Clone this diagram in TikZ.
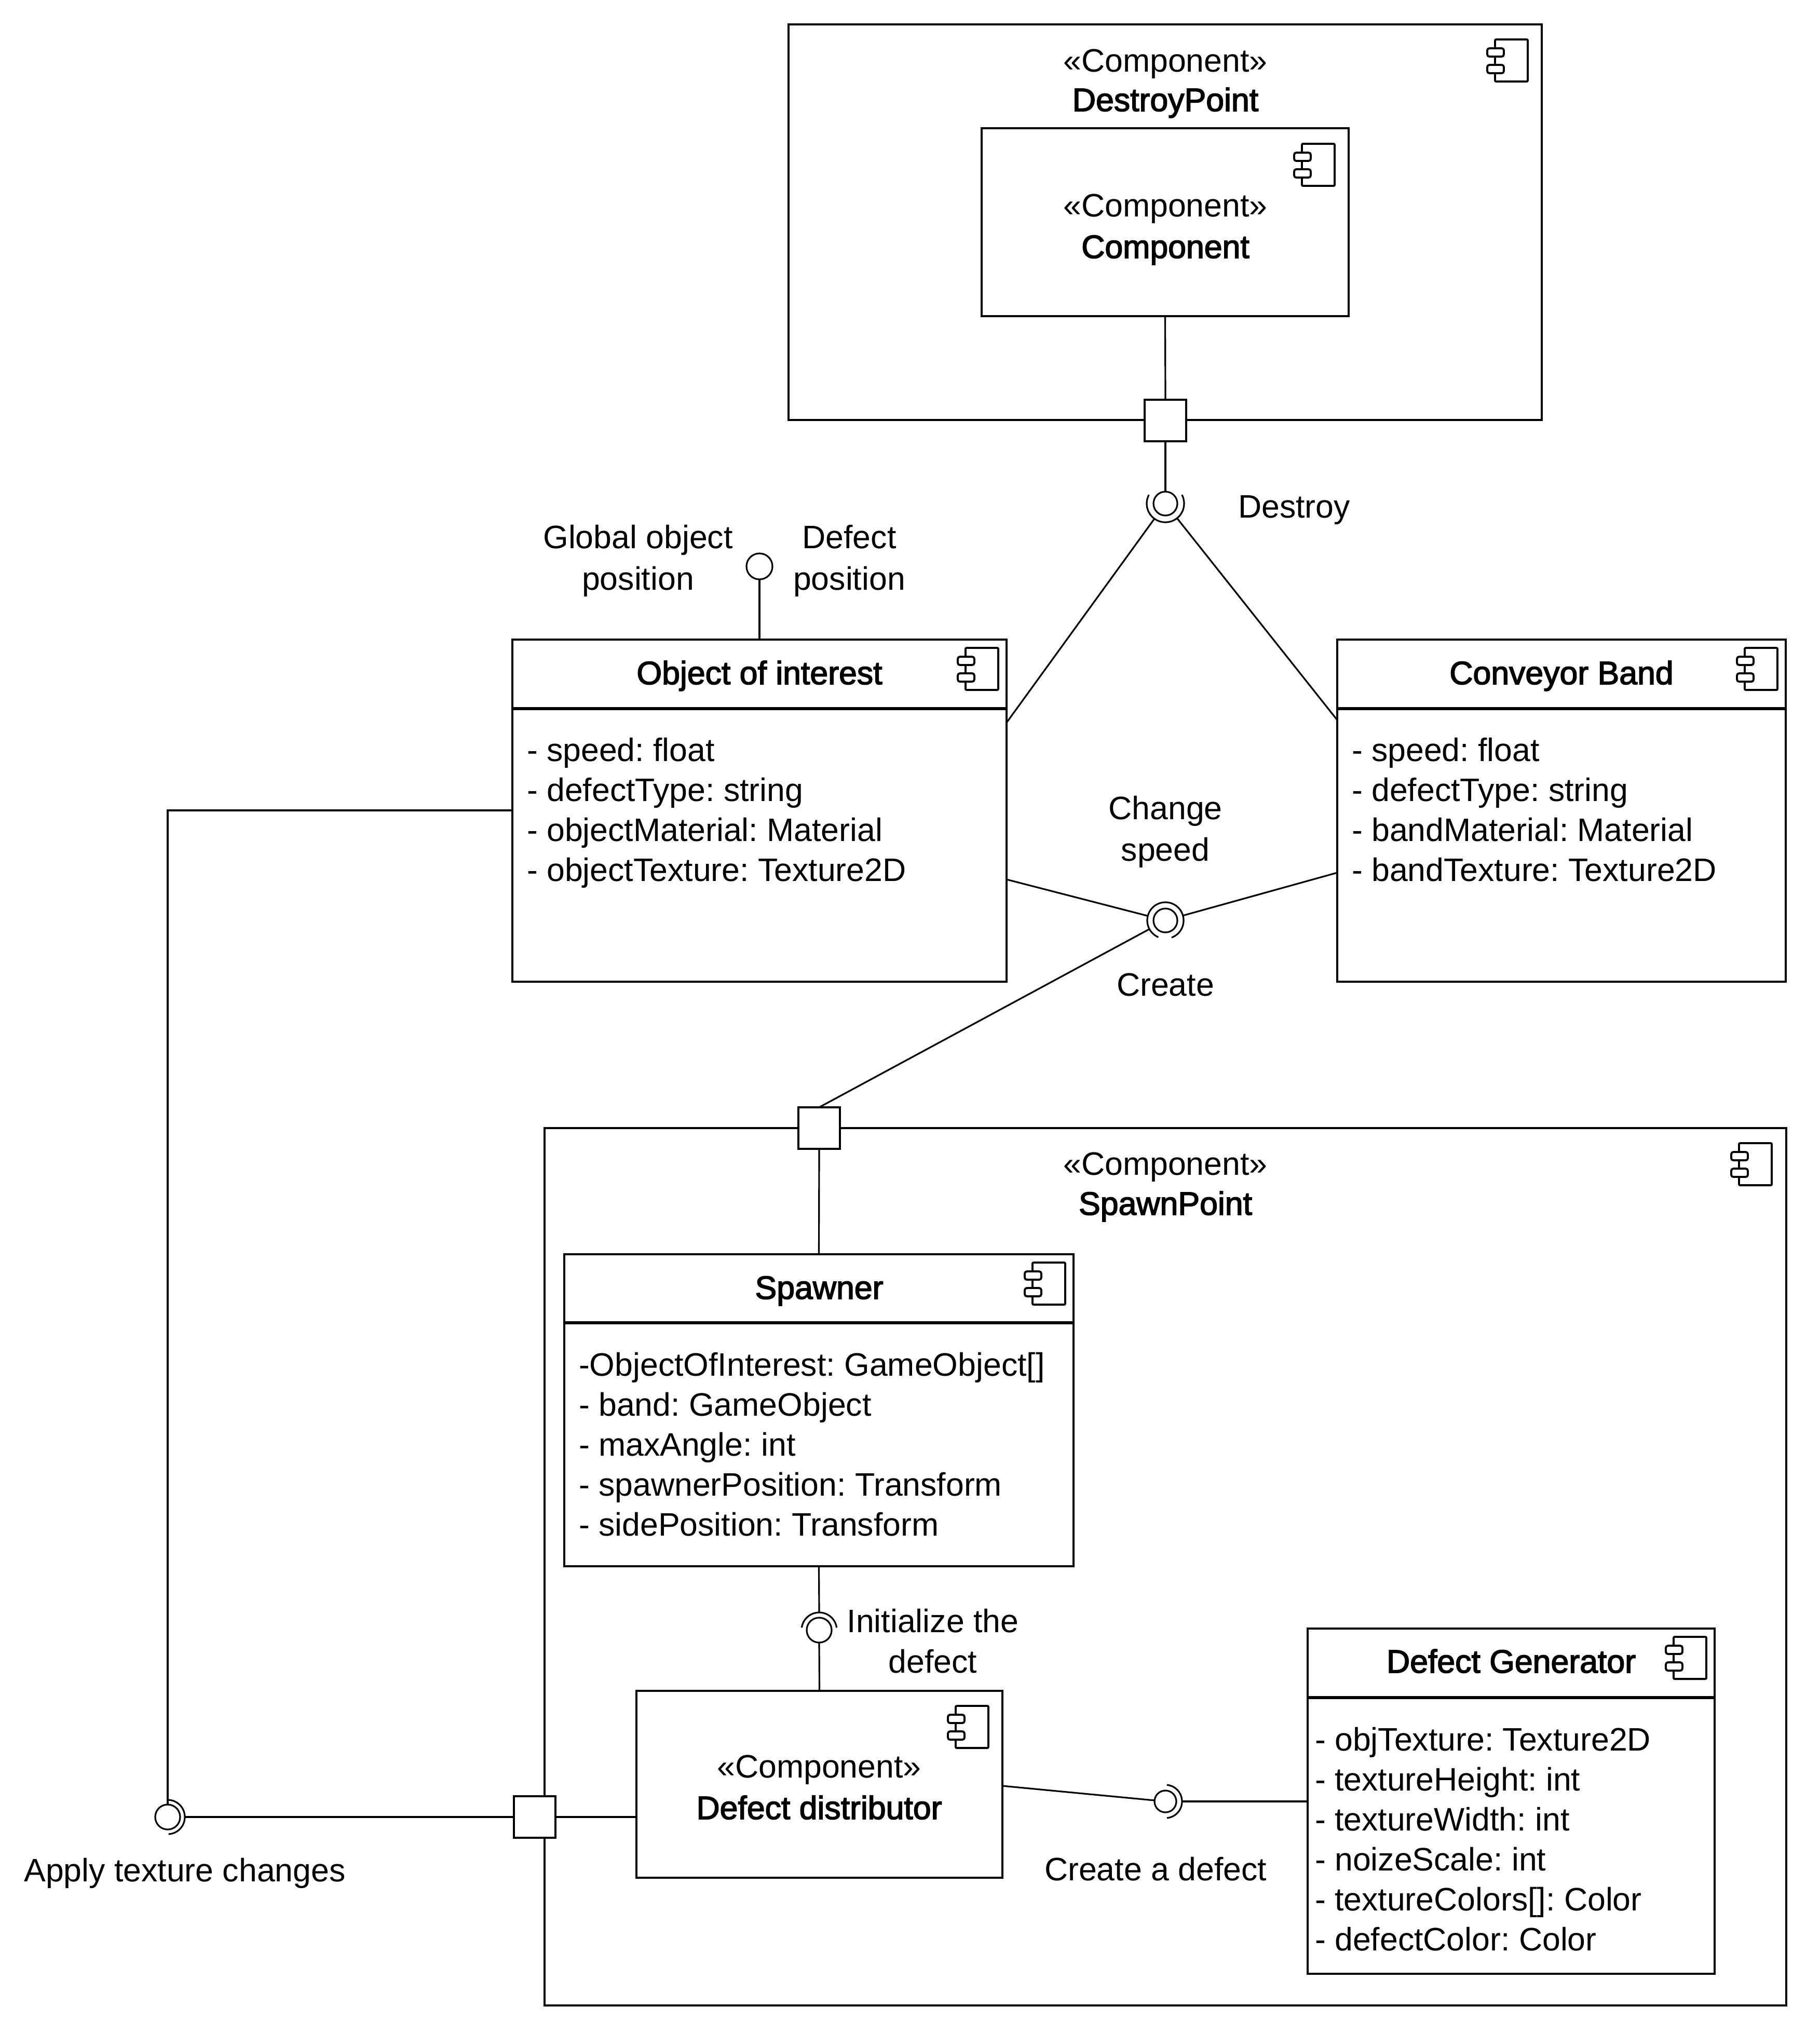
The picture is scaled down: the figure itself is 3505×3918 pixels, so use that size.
\documentclass[tikz,border=0pt]{standalone}
\usepackage{fontspec}
\setmainfont{Liberation Sans}
\newfontfamily\semibold{Liberation Sans}[FakeBold=2.6]
\usetikzlibrary{fit,calc}
\tikzset{
  box/.style={draw, line width=1.1pt, fill=white, inner sep=0pt, outer sep=0pt, rectangle},
  divider/.style={line width=1.8pt},
  conn/.style={line width=0.9pt},
  ifc/.style={line width=0.9pt},
  ball/.style={circle, draw, line width=0.9pt, inner sep=0pt, outer sep=0pt, fill=white},
  portbox/.style={draw, rectangle, line width=1.1pt, fill=white, minimum size=0.8cm, inner sep=0pt, outer sep=0pt},
  txt/.style={inner sep=0pt, outer sep=0pt, anchor=base},
  ltxt/.style={inner sep=0pt, outer sep=0pt, anchor=base west},
  btxt/.style={txt, font=\semibold},
  cicon/.pic={
    \draw[line width=1.1pt, rounded corners=0.6pt] (-0.63cm,0cm) rectangle (0cm,-0.81cm);
    \draw[line width=1.1pt, fill=white, rounded corners=1.2pt] (-0.78cm,-0.17cm) rectangle (-0.46cm,-0.33cm);
    \draw[line width=1.1pt, fill=white, rounded corners=1.2pt] (-0.78cm,-0.49cm) rectangle (-0.46cm,-0.65cm);
  }
}
\begin{document}
\fontsize{17.8pt}{22.2pt}\selectfont\frenchspacing
\begin{tikzpicture}[x=0.01cm,y=-0.01cm]
\useasboundingbox (0,0) rectangle (3505,3918);

% ---------- boxes ----------
\node[box, fit={(1519,47) (2970,809)}] (dp) {};
\node[box, fit={(1891,247) (2598,609)}] (comp) {};
\node[box, fit={(987,1232) (1939,1891)}] (oi) {};
\node[box, fit={(2576,1232) (3440,1891)}] (cb) {};
\node[box, fit={(1049,2173) (3441,3863)}] (sp) {};
\node[box, fit={(1087,2416) (2068,3017)}] (spw) {};
\node[box, fit={(1226,3257) (1931,3617)}] (dd) {};
\node[box, fit={(2519,3137) (3303,3802)}] (dg) {};

% dividers
\draw[divider] (oi.west |- 0,1365) -- (oi.east |- 0,1365);
\draw[divider] (cb.west |- 0,1365) -- (cb.east |- 0,1365);
\draw[divider] (spw.west |- 0,2548) -- (spw.east |- 0,2548);
\draw[divider] (dg.west |- 0,3270) -- (dg.east |- 0,3270);

% component icons
\pic at (2943,76) {cicon};
\pic at (2571,277) {cicon};
\pic at (1923,1248) {cicon};
\pic at (3424,1248) {cicon};
\pic at (3413,2202) {cicon};
\pic at (2052,2432) {cicon};
\pic at (1904,3286) {cicon};
\pic at (3287,3153) {cicon};

% ---------- texts ----------
\node[txt] (dpst) at (2245,139) {«Component»};
\node[btxt] (dpname) at (2245,214) {DestroyPoint};
\node[txt] (compst) at (2245,417) {«Component»};
\node[btxt] (compname) at (2245,497) {Component};
\node[txt] (destroylbl) at (2493,997) {Destroy};
\node[txt] (glob1) at (1229,1056) {Global object};
\node[txt] (glob2) at (1229,1136) {position};
\node[txt] (defp1) at (1636,1056) {Defect};
\node[txt] (defp2) at (1636,1136) {position};
\node[btxt] (oititle) at (1463,1318) {Object of interest};
\node[btxt] (cbtitle) at (3008,1318) {Conveyor Band};
\foreach \t [count=\i from 0] in {- speed: float, - defectType: string, - objectMaterial: Material, - objectTexture: Texture2D}
  \node[ltxt] (oia\i) at (1015,{1466+77*\i}) {\t};
\foreach \t [count=\i from 0] in {- speed: float, - defectType: string, - bandMaterial: Material, - bandTexture: Texture2D}
  \node[ltxt] (cba\i) at (2604,{1466+77*\i}) {\t};
\node[txt] (chg1) at (2245,1578) {Change};
\node[txt] (chg2) at (2245,1658) {speed};
\node[txt] (createlbl) at (2245,1918) {Create};
\node[txt] (spst) at (2245,2263) {«Component»};
\node[btxt] (spname) at (2245,2340) {SpawnPoint};
\node[btxt] (spwtitle) at (1578,2502) {Spawner};
\foreach \t [count=\i from 0] in {-ObjectOfInterest: GameObject[], - band: GameObject, - maxAngle: int, - spawnerPosition: Transform, - sidePosition: Transform}
  \node[ltxt] (spwa\i) at (1115,{2650+77*\i}) {\t};
\node[txt] (init1) at (1797,3144) {Initialize the};
\node[txt] (init2) at (1797,3222) {defect};
\node[txt] (ddst) at (1578,3424) {«Component»};
\node[btxt] (ddname) at (1578,3504) {Defect distributor};
\node[btxt] (dgtitle) at (2911,3222) {Defect Generator};
\foreach \t [count=\i from 0] in {- objTexture: Texture2D, - textureHeight: int, - textureWidth: int, - noizeScale: int, - textureColors[]: Color, - defectColor: Color}
  \node[ltxt] (dga\i) at (2533,{3372+77*\i}) {\t};
\node[txt] (cdlbl) at (2226,3622) {Create a defect};
\node[txt] (applbl) at (356,3624) {Apply texture changes};

% ---------- ports ----------
\node[portbox] (dpport) at (2245,810) {};
\node[portbox] (spport) at (1578,2173) {};
\node[portbox] (lport) at (1030,3500) {};

% ---------- balls ----------
\node[ball, minimum size=0.46cm] (dball) at (2245,970) {};
\node[ball, minimum size=0.46cm] (cball) at (2245,1773) {};
\node[ball, minimum size=0.48cm] (iball) at (1578,3140) {};
\node[ball, minimum size=0.42cm] (eball) at (2245,3470) {};
\node[ball, minimum size=0.48cm] (aball) at (323,3500) {};
\node[ball, minimum size=0.50cm] (lball) at (1463,1091) {};

% ---------- sockets ----------
\draw[ifc] ($(dball.center)+(152:0.36cm)$) arc[start angle=152, end angle=388, radius=0.36cm];
\draw[ifc] ($(cball.center)+(-70:0.35cm)$) arc[start angle=-70, end angle=247, radius=0.35cm];
\draw[ifc] ($(iball.center)+(8:0.34cm)$) arc[start angle=8, end angle=172, radius=0.34cm];
\draw[ifc] ($(eball.center)+(-85:0.32cm)$) arc[start angle=-85, end angle=85, radius=0.32cm];
\draw[ifc] ($(aball.center)+(-87:0.33cm)$) arc[start angle=-87, end angle=87, radius=0.33cm];

% ---------- connectors ----------
\draw[conn] (comp.south) -- (dpport.north);
\draw[conn] (dpport.south) -- (dball.north);
\coordinate (oiD) at (1939,1392);
\coordinate (cbD) at (2576,1387);
\draw[conn] ($(dball.center)!0.36cm!(oiD)$) -- (oiD);
\draw[conn] ($(dball.center)!0.36cm!(cbD)$) -- (cbD);

\coordinate (oiC) at (1939,1694);
\coordinate (cbC) at (2576,1681);
\draw[conn] (oiC) -- ($(cball.center)!0.35cm!(oiC)$);
\draw[conn] (cbC) -- ($(cball.center)!0.35cm!(cbC)$);
\draw[conn] (spport.north) -- ($(cball.center)!0.35cm!(spport.north)$);

\draw[conn] (spport.south) -- (spw.north);
\draw[conn] (spw.south) -- ($(iball.center)+(90:0.34cm)$);
\draw[conn] (iball.south) -- (dd.north);

\coordinate (ddE) at (1931,3440);
\coordinate (dgE) at (2519,3470);
\draw[conn] (ddE) -- (eball);
\draw[conn] ($(eball.center)+(0:0.32cm)$) -- (dgE);

\coordinate (oiA) at (987,1561);
\coordinate (cornerA) at (aball |- oiA);
\draw[conn] (oiA) -- (cornerA) -- (aball.north);
\draw[conn] ($(aball.center)+(0:0.33cm)$) -- (lport.west);
\draw[conn] (lport.east) -- (dd.west |- lport.east);

\draw[conn] (lball.south) -- (lball |- oi.north);
\end{tikzpicture}
\end{document}
